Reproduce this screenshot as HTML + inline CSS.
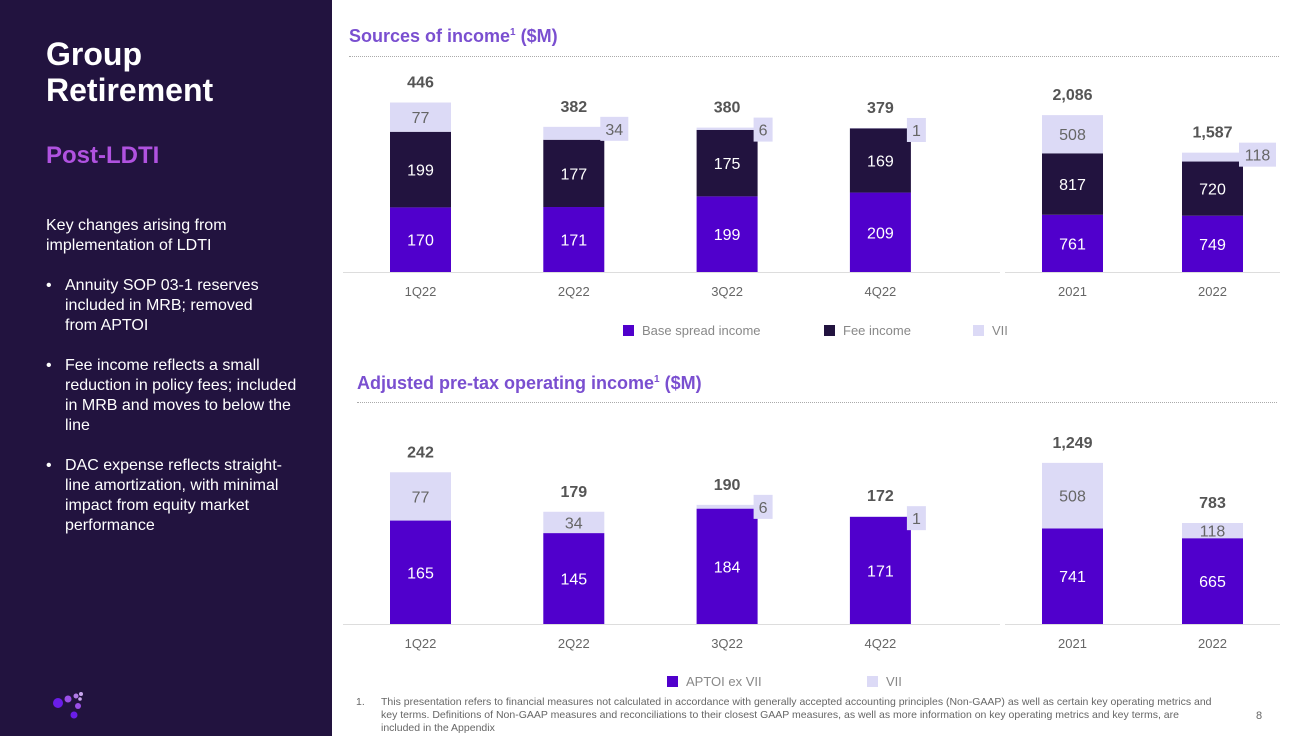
<!DOCTYPE html>
<html><head><meta charset="utf-8">
<style>
*{margin:0;padding:0;box-sizing:border-box}
body{width:1314px;height:736px;overflow:hidden;background:#fff;font-family:"Liberation Sans",sans-serif;position:relative}
#side{position:absolute;left:0;top:0;width:332px;height:736px;background:#22133f}
.t{position:absolute;white-space:nowrap}
#side .h1{left:46px;top:36px;color:#fff;font-size:32px;font-weight:bold;line-height:36px}
#side .h2{left:46px;top:142px;color:#b052e0;font-size:24px;font-weight:bold}
#side .body{left:46px;top:216px;color:#fff;font-size:16px;line-height:20px;width:252px;white-space:normal}
#side ul{list-style:none;margin-top:20px}
#side li{position:relative;padding-left:19px;margin-bottom:20px}
#side li:before{content:"•";position:absolute;left:0}
.title{color:#7a4fd0;font-size:18px;font-weight:bold}
.dots{position:absolute;border-top:1px dotted #aaa;height:0}
.foot{left:356px;top:696px;font-size:10.5px;color:#666;line-height:13px;white-space:normal;width:860px}
</style></head><body>
<div id="side">
 <div class="t h1">Group<br>Retirement</div>
 <div class="t h2">Post-LDTI</div>
 <div class="t body">Key changes arising from implementation of LDTI
  <ul>
   <li style="width:225px">Annuity SOP 03-1 reserves included in MRB; removed from APTOI</li>
   <li>Fee income reflects a small reduction in policy fees; included in MRB and moves to below the line</li>
   <li>DAC expense reflects straight-line amortization, with minimal impact from equity market performance</li>
  </ul></div>
 <svg width="60" height="40" style="position:absolute;left:48px;top:688px">
  <circle cx="10" cy="15" r="5" fill="#6a1de8"/><circle cx="20" cy="11" r="3.5" fill="#9b4fe8"/>
  <circle cx="28" cy="8" r="2.5" fill="#b27ae8"/><circle cx="33" cy="6" r="2" fill="#c9a6ee"/>
  <circle cx="32" cy="11" r="1.8" fill="#c9a6ee"/><circle cx="30" cy="18" r="3" fill="#9b4fe8"/>
  <circle cx="26" cy="27" r="3.5" fill="#6a1de8"/>
 </svg>
</div>
<div class="t title" style="left:349px;top:26px">Sources of income<sup style="font-size:10px">1</sup> ($M)</div>
<div class="dots" style="left:349px;top:56px;width:930px"></div>
<div class="t title" style="left:357px;top:373px">Adjusted pre-tax operating income<sup style="font-size:10px">1</sup> ($M)</div>
<div class="dots" style="left:357px;top:402px;width:920px"></div>
<div class="t foot"><span style="position:absolute;left:0">1.</span><div style="padding-left:25px">This presentation refers to financial measures not calculated in accordance with generally accepted accounting principles (Non-GAAP) as well as certain key operating metrics and key terms.  Definitions of Non-GAAP measures and reconciliations to their closest GAAP measures, as well as more information on key operating metrics and key terms, are included in the Appendix</div></div>
<div class="t" style="left:1256px;top:710px;font-size:11px;color:#666">8</div>
<svg id="ch" width="1314" height="736" style="position:absolute;left:0;top:0"></svg>
<script>
const qCats=["1Q22","2Q22","3Q22","4Q22"];
const yCats=["2021","2022"];
const topQBase=[170,171,199,209];
const topQFee=[199,177,175,169];
const topQVii=[77,34,6,1];
const topQTotal=["446","382","380","379"];
const topYBase=[761,749];
const topYFee=[817,720];
const topYVii=[508,118];
const topYTotal=["2,086","1,587"];
const botQBase=[165,145,184,171];
const botQVii=[77,34,6,1];
const botQTotal=["242","179","190","172"];
const botYBase=[741,665];
const botYVii=[508,118];
const botYTotal=["1,249","783"];
const C={base:"#5000cc",fee:"#22133f",vii:"#dcdaf6"};
const svg=document.getElementById('ch');const NS="http://www.w3.org/2000/svg";
function mk(tag,a,txt){const e=document.createElementNS(NS,tag);for(const k in a)e.setAttribute(k,a[k]);if(txt!==undefined)e.textContent=txt;svg.appendChild(e);return e;}
function chart(cats,series,totals,base,scale,x0,step,axX1,axX2,prefix){
 const line=mk('line',{x1:axX1,x2:axX2,y1:base+0.5,y2:base+0.5,stroke:'#ddd'});
 
 
 cats.forEach((c,i)=>{
  const cx=x0+i*step,w=61,x=cx-w/2;let y=base;
  series.forEach(s=>{
   const v=s.vals[i],h=v*scale;y-=h;
   const r=mk('rect',{x:x,y:y,width:w,height:h,fill:C[s.k]});
   
   
   if(s.k==='vii'&&h<14){
    const bw=String(v).length*9+10;
    const b=mk('rect',{x:x+w-4,y:y-10,width:bw,height:24,fill:C.vii});
    
    
    const tl=mk('text',{x:x+w-4+bw/2,y:y+8,'text-anchor':'middle','font-size':16,fill:'#666'},v);
    
    
   }else{
    const tl=mk('text',{x:cx,y:y+h/2+6,'text-anchor':'middle','font-size':16,fill:s.k==='vii'?'#666':'#fff'},v);
    
    
   }
  });
  const tt=mk('text',{x:cx,y:y-15,'text-anchor':'middle','font-size':16,'font-weight':'bold',fill:'#555'},totals[i]);
  
  
  const cl=mk('text',{x:cx,y:base+24,'text-anchor':'middle','font-size':13,fill:'#666'},c);
  
  
 });
}
chart(qCats,[{k:'base',vals:topQBase},{k:'fee',vals:topQFee},{k:'vii',vals:topQVii}],topQTotal,272,0.38,420.5,153.3,343,1000,'sources-q');
chart(yCats,[{k:'base',vals:topYBase},{k:'fee',vals:topYFee},{k:'vii',vals:topYVii}],topYTotal,272,0.0752,1072.5,140,1005,1280,'sources-y');
chart(qCats,[{k:'base',vals:botQBase},{k:'vii',vals:botQVii}],botQTotal,624,0.627,420.5,153.3,343,1000,'aptoi-q');
chart(yCats,[{k:'base',vals:botYBase},{k:'vii',vals:botYVii}],botYTotal,624,0.129,1072.5,140,1005,1280,'aptoi-y');
function leg(x,y,col,txt,name){
 const r=mk('rect',{x:x,y:y-10,width:11,height:11,fill:col});
 
 
 const t=mk('text',{x:x+19,y:y,'font-size':13,fill:'#888'},txt);
 
 
}
leg(623,335,C.base,'Base spread income','legend-base-spread');
leg(824,335,C.fee,'Fee income','legend-fee-income');
leg(973,335,C.vii,'VII','legend-vii-top');
leg(667,686,C.base,'APTOI ex VII','legend-aptoi-ex-vii');
leg(867,686,C.vii,'VII','legend-vii-bottom');
</script>
</body></html>
